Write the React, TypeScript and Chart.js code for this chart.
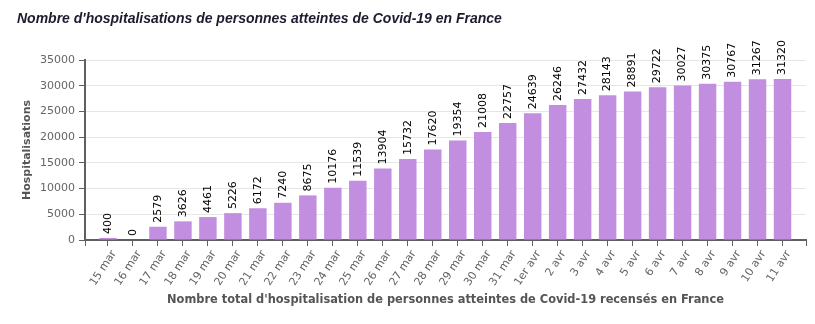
import React, { useEffect, useRef } from 'react';
import { Chart, registerables } from 'chart.js';

Chart.register(...registerables);

const TITLE = "Nombre d'hospitalisations de personnes atteintes de Covid-19 en France";
const X_TITLE = "Nombre total d'hospitalisation de personnes atteintes de Covid-19 recensés en France";
const Y_TITLE = 'Hospitalisations';

const categories = [
  '15 mar', '16 mar', '17 mar', '18 mar', '19 mar', '20 mar', '21 mar', '22 mar', '23 mar',
  '24 mar', '25 mar', '26 mar', '27 mar', '28 mar', '29 mar', '30 mar', '31 mar',
  '1er avr', '2 avr', '3 avr', '4 avr', '5 avr', '6 avr', '7 avr', '8 avr', '9 avr', '10 avr', '11 avr',
];

const hospitalisations = [
  400, 0, 2579, 3626, 4461, 5226, 6172, 7240, 8675, 10176, 11539, 13904, 15732, 17620,
  19354, 21008, 22757, 24639, 26246, 27432, 28143, 28891, 29722, 30027, 30375, 30767, 31267, 31320,
];

const yTicks = [0, 5000, 10000, 15000, 20000, 25000, 30000, 35000];

const X_MIN = -0.92;
const X_MAX = 27.94;

const AXIS_COLOR = '#606060';
const BAR_COLOR = '#c28ee0';

const titlePlugin = {
  id: 'customTitle',
  afterDraw(chart: any) {
    const ctx = chart.ctx;
    ctx.save();
    ctx.font = "italic bold 14px 'Liberation Sans', Arial, sans-serif";
    ctx.fillStyle = '#1c1c2e';
    ctx.textAlign = 'left';
    ctx.textBaseline = 'alphabetic';
    ctx.fillText(TITLE, 17, 23);
    ctx.restore();
  },
};

const valueLabelPlugin = {
  id: 'valueLabels',
  afterDatasetsDraw(chart: any) {
    const ctx = chart.ctx;
    const meta = chart.getDatasetMeta(0);
    ctx.save();
    ctx.font = "11px 'DejaVu Sans', sans-serif";
    ctx.fillStyle = '#000000';
    ctx.textAlign = 'left';
    ctx.textBaseline = 'middle';
    meta.data.forEach((el: any, i: number) => {
      ctx.save();
      ctx.translate(el.x, el.y - 4);
      ctx.rotate(-Math.PI / 2);
      ctx.fillText(String(hospitalisations[i]), 0, 0);
      ctx.restore();
    });
    ctx.restore();
  },
};

export default function App() {
  const canvasRef = useRef<HTMLCanvasElement | null>(null);

  useEffect(() => {
    if (!canvasRef.current) return;
    const chart = new Chart(canvasRef.current, {
      type: 'bar',
      data: {
        datasets: [
          {
            label: Y_TITLE,
            data: hospitalisations.map((v, i) => ({ x: i, y: v })),
            backgroundColor: BAR_COLOR,
            borderWidth: 0,
            categoryPercentage: 1,
            barPercentage: 0.76,
          },
        ],
      },
      options: {
        animation: false,
        responsive: false,
        maintainAspectRatio: false,
        layout: { autoPadding: false, padding: { top: 60, right: 9, left: 0, bottom: 0 } },
        plugins: {
          legend: { display: false },
          title: { display: false },
          tooltip: { enabled: false },
        },
        scales: {
          x: {
            type: 'linear',
            offset: false,
            min: X_MIN,
            max: X_MAX,
            afterBuildTicks: (scale: any) => {
              scale.ticks = [X_MIN, ...categories.map((_, i) => i), X_MAX].map((v) => ({ value: v }));
            },
            afterFit: (scale: any) => {
              scale.height = 84;
              scale.paddingLeft = 0;
              scale.paddingRight = 0;
            },
            grid: {
              offset: false,
              drawOnChartArea: false,
              drawTicks: true,
              color: AXIS_COLOR,
              tickColor: AXIS_COLOR,
              tickLength: 6,
              lineWidth: 1,
            },
            border: { color: AXIS_COLOR, width: 2 },
            ticks: {
              autoSkip: false,
              minRotation: 57,
              maxRotation: 57,
              color: '#666666',
              labelOffset: 6,
              padding: 2,
              font: { family: "'DejaVu Sans', sans-serif", size: 11 },
              callback: (value: any) => {
                const v = Number(value);
                const r = Math.round(v);
                return Math.abs(v - r) < 1e-6 && r >= 0 && r < categories.length ? categories[r] : '';
              },
            },
            title: {
              display: true,
              text: X_TITLE,
              color: '#555555',
              font: { family: "'DejaVu Sans', sans-serif", size: 11.4, weight: 'bold' },
              padding: { top: 0, bottom: 17 },
            },
          },
          y: {
            type: 'linear',
            min: 0,
            max: 35000,
            afterBuildTicks: (scale: any) => {
              scale.ticks = yTicks.map((v) => ({ value: v }));
            },
            afterFit: (scale: any) => {
              scale.width = 85;
              scale.paddingTop = 0;
              scale.paddingBottom = 0;
            },
            grid: {
              color: (ctx: any) => (ctx.tick && ctx.tick.value === 0 ? 'rgba(0,0,0,0)' : '#e6e6e6'),
              tickColor: AXIS_COLOR,
              tickLength: 6,
              lineWidth: 1,
            },
            border: { color: AXIS_COLOR, width: 2 },
            ticks: {
              color: '#666666',
              padding: 4,
              font: { family: "'DejaVu Sans', sans-serif", size: 11 },
              callback: (value: any) => String(value),
            },
            title: {
              display: true,
              text: Y_TITLE,
              color: '#555555',
              font: { family: "'DejaVu Sans', sans-serif", size: 11, weight: 'bold' },
              padding: { top: 21, bottom: 0 },
            },
          },
        },
      },
      plugins: [titlePlugin, valueLabelPlugin],
    } as any);
    return () => chart.destroy();
  }, []);

  return (
    <div style={{ position: 'fixed', left: 0, top: 0, width: 815, height: 324, background: '#ffffff' }}>
      <canvas ref={canvasRef} width={815} height={324} style={{ display: 'block' }} />
    </div>
  );
}
